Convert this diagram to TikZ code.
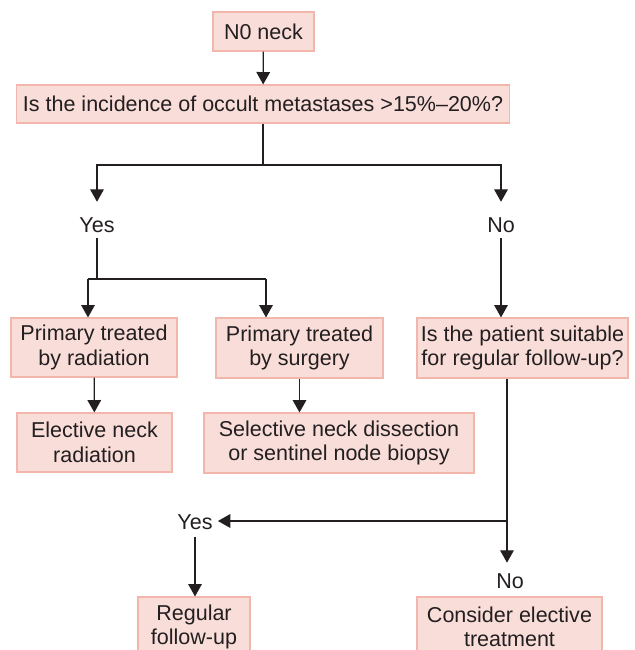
\documentclass[tikz,border=0pt]{standalone}
\usepackage{fontspec}
\setmainfont{Liberation Sans}
\usetikzlibrary{arrows.meta}
\definecolor{boxfill}{RGB}{249,221,217}
\definecolor{boxline}{RGB}{242,182,172}
\definecolor{ink}{RGB}{35,31,32}
\begin{document}
\begin{tikzpicture}[x=0.025cm,y=-0.025cm,
  box/.style={draw=boxline,fill=boxfill,line width=0.8pt,align=center,inner sep=0pt,text=ink,font=\fontsize{15.3pt}{17.4pt}\selectfont},
  lab/.style={inner sep=0pt,anchor=base,text=ink,font=\fontsize{15.3pt}{17.4pt}\selectfont},
  arr/.style={draw=ink,line width=0.9pt,-{Triangle[length=0.31cm,width=0.34cm]}},
  ln/.style={draw=ink,line width=0.9pt}]
\path[use as bounding box,clip] (0,0) rectangle (634,650);
\node[box,minimum width=2.525cm,minimum height=0.975cm] (neck) at (263.5,31.5) {N0 neck};
\node[box,minimum width=12.3cm,minimum height=0.95cm] (incid) at (263,104) {Is the incidence of occult metastases >15\%–20\%?};
\node[lab,text height=21.3pt,text depth=4.3pt] (yesA) at (97,232) {Yes};
\node[lab,text height=21.3pt,text depth=4.3pt] (noA) at (501,232) {No};
\node[box,minimum width=4.15cm,minimum height=1.475cm] (rad) at (94,347.5) {Primary treated\\by radiation};
\node[box,minimum width=4.175cm,minimum height=1.5cm] (surg) at (299.5,348) {Primary treated\\by surgery};
\node[box,minimum width=5.275cm,minimum height=1.5cm] (suit) at (522.5,348) {Is the patient suitable\\for regular follow-up?};
\node[box,minimum width=3.875cm,minimum height=1.475cm] (elec) at (94.5,442.5) {Elective neck\\radiation};
\node[box,minimum width=6.75cm,minimum height=1.5cm] (sel) at (339,443) {Selective neck dissection\\or sentinel node biopsy};
\node[lab,inner xsep=3.6pt,text depth=5.7pt] (yesB) at (195,529) {Yes};
\node[lab,text height=17.8pt] (noB) at (510,588) {No};
\node[box,minimum width=2.8cm,minimum height=1.5cm] (reg) at (194,627) {Regular\\follow-up};
\node[box,minimum width=4.625cm,minimum height=1.5cm] (cons) at (509.5,627) {Consider elective\\treatment};

\coordinate (jA) at (263,165);
\coordinate (jBl) at (88,279);
\coordinate (jBr) at (266,279);
\coordinate (jC) at (507,521);

\draw[arr] (neck) -- (incid);
\draw[ln] (incid.south) -- (jA);
\draw[arr] (jA) -| (yesA.north);
\draw[arr] (jA) -| (noA.north);
\draw[ln] (yesA.south) -- (yesA.south |- jBl);
\draw[ln] (jBl) -- (jBr);
\draw[arr] (jBl) -- (jBl |- rad.north);
\draw[arr] (jBr) -- (jBr |- surg.north);
\draw[arr] (noA.south) -- (noA.south |- suit.north);
\draw[arr] (rad) -- (elec);
\draw[arr] (surg.south) -- (surg.south |- sel.north);
\draw[ln] (suit.south -| jC) -- (jC);
\draw[arr] (jC) -- (jC -| yesB.east);
\draw[arr] (jC) -- (jC |- noB.north);
\draw[arr] (yesB.south) -- (yesB.south |- reg.north);
\end{tikzpicture}
\end{document}
